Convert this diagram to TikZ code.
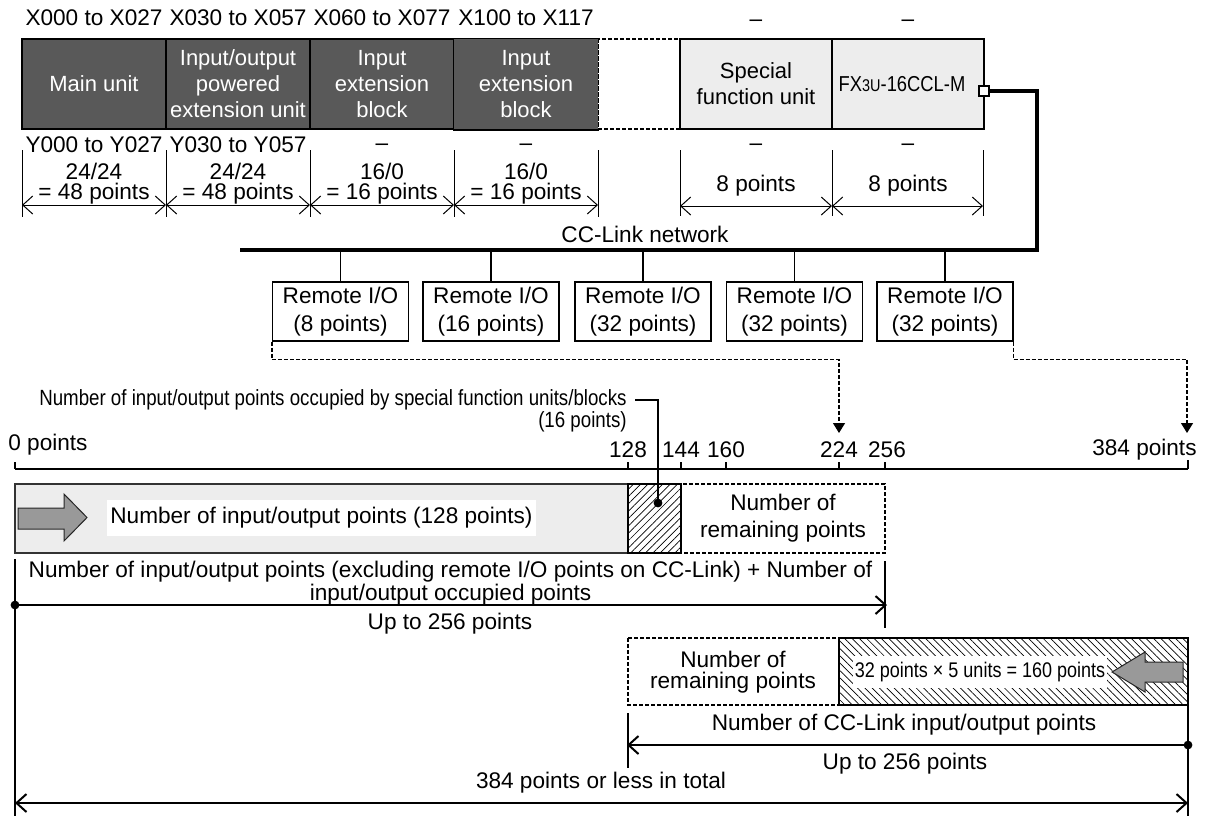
\documentclass[tikz,border=0pt]{standalone}
\usepackage{fontspec}
\setmainfont{Liberation Sans}
\newfontfamily\narrowfont{Liberation Sans}[FakeStretch=0.85]
\usetikzlibrary{arrows.meta,patterns.meta}
\definecolor{unitdark}{HTML}{595959}
\definecolor{unitlight}{HTML}{EDEDED}
\definecolor{arrowgray}{HTML}{999999}
\tikzset{
  darkunit/.style={draw=black,line width=0.75pt,fill=unitdark,text=white,minimum width=72pt,minimum height=45pt,inner sep=0pt,align=center,font=\fontsize{11}{13}\selectfont},
  lightunit/.style={darkunit,fill=unitlight,text=black,minimum width=76pt},
  remote/.style={draw,line width=0.6pt,minimum width=68pt,minimum height=29.5pt,inner sep=0pt,align=center,font=\fontsize{11.3}{14}\selectfont},
  lbl/.style={inner sep=0pt,align=center,font=\fontsize{11.3}{10}\selectfont},
  narrowlbl/.style={inner sep=0pt,align=right,font=\narrowfont\fontsize{11}{11}\selectfont},
  dim/.style={line width=0.5pt},
  dimarrow/.style={line width=0.5pt,{Straight Barb[length=5pt,width=9pt]}-{Straight Barb[length=5pt,width=9pt]}},
  bigdim/.style={line width=1pt},
  dashbox/.style={line width=0.6pt,dash pattern=on 2pt off 1pt},
  dashlink/.style={line width=0.6pt,dash pattern=on 2pt off 1pt,-{Triangle[length=5pt,width=6pt]}},
  hatchbox/.style={line width=1.25pt},
  bigarrow/.style={draw=black!85,line width=0.5pt,fill=arrowgray},
}
\begin{document}
\begin{tikzpicture}[x=0.5pt,y=-0.5pt,line join=miter]
\useasboundingbox (0,0) rectangle (1208,816);
% unit row
\node[lbl] (xmain) at (94,18) {X000 to X027};
\node[lbl] (xpow) at (238,18) {X030 to X057};
\node[lbl] (xin1) at (382,18) {X060 to X077};
\node[lbl] (xin2) at (526,18) {X100 to X117};
\node[lbl] (xsp) at (756,23) {–};
\node[lbl] (xccl) at (908,23) {–};
\draw[dashbox] (598,39) rectangle (680,129);
\node[darkunit] (main) at (94,84) {Main unit};
\node[darkunit] (powered) at (238,84) {Input/output\\powered\\extension unit};
\node[darkunit] (inblk1) at (382,84) {Input\\extension\\block};
\node[darkunit,draw=none] (inblk2) at (526,84) {Input\\extension\\block};
\draw[line width=0.75pt] (inblk2.north east) -- (inblk2.north west) -- (inblk2.south west) -- (inblk2.south east);
\draw[dashbox] (inblk2.north east) -- (inblk2.south east);
\node[lightunit] (special) at (756,84) {Special\\function unit};
\node[lightunit,font=\narrowfont\fontsize{10.8}{13}\selectfont] (ccl) at (908,84) {FX{\fontsize{8.5}{8}\selectfont 3U}-16CCL-M\hspace{6pt}};
\node[draw,line width=1pt,fill=white,minimum size=5pt,inner sep=0pt] (port) at (984,91) {};
\node[lbl] (ymain) at (94,145) {Y000 to Y027};
\node[lbl] (ypow) at (238,145) {Y030 to Y057};
\node[lbl] (yin1) at (382,147) {–};
\node[lbl] (yin2) at (526,147) {–};
\node[lbl] (ysp) at (756,147) {–};
\node[lbl] (yccl) at (908,147) {–};
% point counts
\draw[dim] (22,150)--(22,217) (166,150)--(166,217) (310,150)--(310,217) (454,150)--(454,217) (598,150)--(598,217);
\draw[dim] (680,150)--(680,216) (832,150)--(832,216) (983,150)--(983,216);
\draw[dimarrow] (22,205)--(166,205);
\draw[dimarrow] (166,205)--(310,205);
\draw[dimarrow] (310,205)--(454,205);
\draw[dimarrow] (454,205)--(598,205);
\draw[dimarrow] (680,206)--(832,206);
\draw[dimarrow] (832,206)--(983,206);
\node[lbl] (nmain) at (94,184) {24/24\\= 48 points};
\node[lbl] (npow) at (238,184) {24/24\\= 48 points};
\node[lbl] (nin1) at (382,184) {16/0\\= 16 points};
\node[lbl] (nin2) at (526,184) {16/0\\= 16 points};
\node[lbl] (nsp) at (756,186) {8 points};
\node[lbl] (nccl) at (908,186) {8 points};
% CC-Link network
\coordinate (netL) at (240,250);
\coordinate (netR) at (1037,250);
\draw[line width=1.75pt] (port.east) -| (netR) -- (netL);
\node[lbl] (netname) at (645,234) {CC-Link network};
\node[remote] (rio1) at (340.5,311.5) {Remote I/O\\(8 points)};
\node[remote] (rio2) at (491,311.5) {Remote I/O\\(16 points)};
\node[remote] (rio3) at (643,311.5) {Remote I/O\\(32 points)};
\node[remote] (rio4) at (794.5,311.5) {Remote I/O\\(32 points)};
\node[remote] (rio5) at (945,311.5) {Remote I/O\\(32 points)};
\draw[line width=0.6pt] (rio1.north)--(rio1.north |- netL) (rio2.north)--(rio2.north |- netL) (rio3.north)--(rio3.north |- netL) (rio4.north)--(rio4.north |- netL) (rio5.north)--(rio5.north |- netL);
% scale
\coordinate (t224) at (839,433);
\coordinate (t384) at (1187,433);
\draw[dashlink] (rio1.south west) -- ++(0,18) -| (t224);
\draw[dashlink] (rio5.south east) -- ++(0,18) -| (t384);
\node[narrowlbl,anchor=east] (occtext) at (627,400) {Number of input/output points occupied by special function units/blocks};
\node[narrowlbl,anchor=east] (occpts) at (627,422) {(16 points)};
\draw[line width=0.6pt] (15,469)--(1188,469);
\draw[line width=0.6pt] (15,462)--(15,469) (628,462)--(628,469) (681,462)--(681,469) (726,462)--(726,469) (839,462)--(839,469) (885,462)--(885,469) (1188,460)--(1188,469);
\node[lbl,anchor=west] (p0) at (8,445) {0 points};
\node[lbl] (p128) at (628,450) {128};
\node[lbl] (p144) at (681,450) {144};
\node[lbl] (p160) at (726,450) {160};
\node[lbl] (p224) at (839,450) {224};
\node[lbl] (p256) at (887,450) {256};
\node[lbl,anchor=east] (p384) at (1197,450) {384 points};
% main side
\draw[draw=black!80,line width=0.75pt,fill=unitlight] (15,484) rectangle (628,553);
\draw[hatchbox,pattern={Lines[angle=45,distance=2.6pt,line width=0.35pt]}] (628,484) rectangle (681,553);
\draw[dashbox] (681,484) rectangle (885,553);
\draw[bigarrow] (18,508)--(64,508)--(64,494)--(87,517.5)--(64,541)--(64,529)--(18,529)--cycle;
\node[lbl,fill=white,inner xsep=1.5pt,inner ysep=3.5pt,anchor=west] (iotext) at (107,518) {Number of input/output points (128 points)};
\node[lbl,font=\fontsize{11.3}{13.5}\selectfont] (remain1) at (783,518) {Number of\\remaining points};
\coordinate (occdot) at (658,503);
\draw[line width=0.6pt] ([xshift=4pt]occtext.east) -| (occdot);
\fill (occdot) circle (2.2pt);
\node[lbl,font=\fontsize{11.3}{11.5}\selectfont] (mainsum) at (450.5,583) {Number of input/output points (excluding remote I/O points on CC-Link) + Number of\\input/output occupied points};
\draw[line width=0.6pt] (15,559)--(15,816) (885,561)--(885,628);
\coordinate (up1s) at (15,605);
\coordinate (up1e) at (887,605);
\draw[bigdim,-{Straight Barb[length=5pt,width=9pt]}] (up1s)--(up1e);
\fill (up1s) circle (2.2pt);
\node[lbl] (up1) at (450,624) {Up to 256 points};
% CC-Link side
\draw[dashbox] (628,638) rectangle (839,705);
\node[lbl,font=\fontsize{11.3}{10.5}\selectfont] (remain2) at (733,672) {Number of\\remaining points};
\draw[hatchbox,pattern={Lines[angle=-45,distance=2.6pt,line width=0.35pt]}] (839,638) rectangle (1188,705);
\node[inner xsep=1pt,inner ysep=3pt,fill=white,font=\narrowfont\fontsize{10.6}{11}\selectfont] (cctext) at (980,672) {32 points × 5 units = 160 points};
\draw[bigarrow] (1112,672)--(1145,652)--(1145,662)--(1183,662)--(1183,682)--(1145,682)--(1145,692)--cycle;
\node[lbl] (ccpts) at (904,725) {Number of CC-Link input/output points};
\draw[line width=0.6pt] (628,713)--(628,768) (1188,705)--(1188,816);
\coordinate (up2s) at (1188,745);
\coordinate (up2e) at (627,745);
\draw[bigdim,-{Straight Barb[length=5pt,width=9pt]}] (up2s)--(up2e);
\fill (up2s) circle (2.2pt);
\node[lbl] (up2) at (905,764) {Up to 256 points};
\node[lbl] (total) at (601,783) {384 points or less in total};
\coordinate (totL) at (15,803);
\coordinate (totR) at (1188,803);
\draw[bigdim,{Straight Barb[length=5pt,width=9pt]}-{Straight Barb[length=5pt,width=9pt]}] (totL)--(totR);
\end{tikzpicture}
\end{document}
